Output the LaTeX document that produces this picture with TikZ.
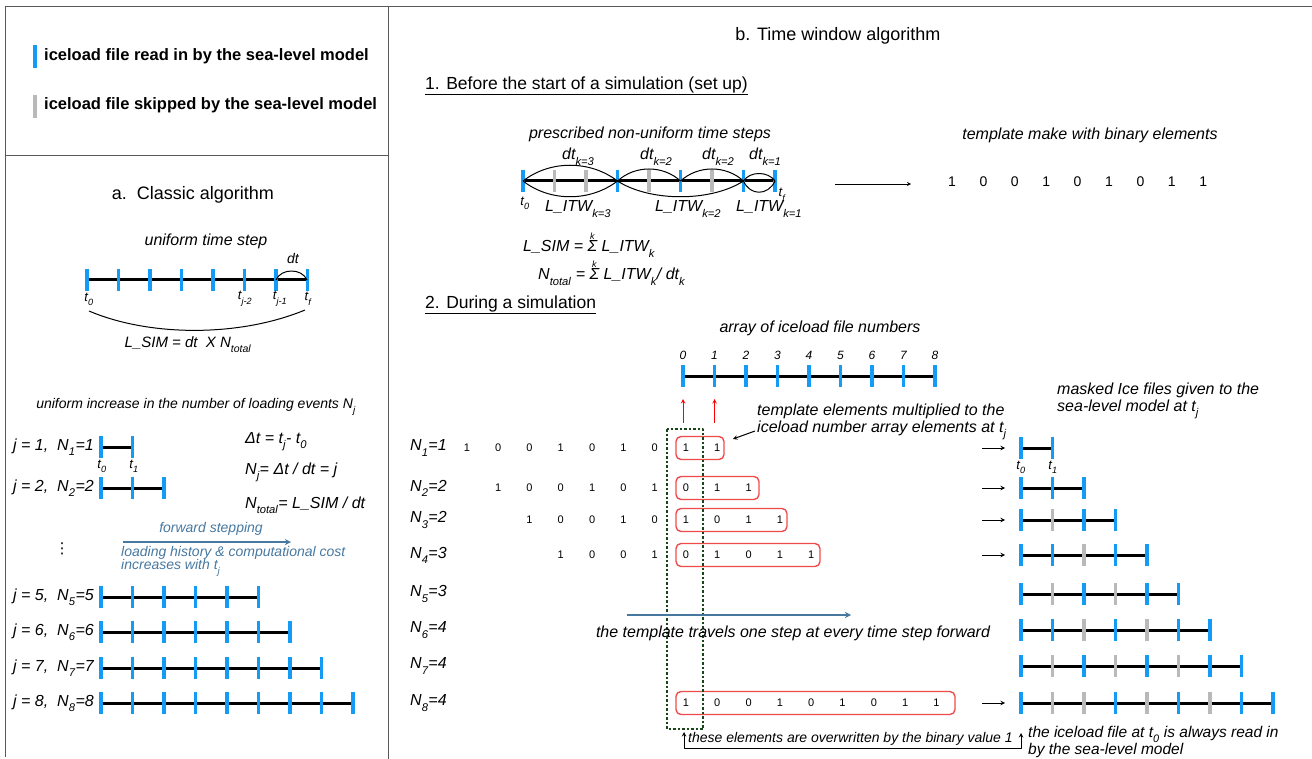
\documentclass[tikz,border=0pt]{standalone}
\usepackage{fontspec}
\setmainfont{Liberation Sans}
\newfontfamily\symfont{DejaVu Sans}
\definecolor{iceblue}{RGB}{20,155,245}
\definecolor{skipgray}{RGB}{185,185,185}
\definecolor{steel}{RGB}{70,120,160}
\definecolor{boxred}{RGB}{240,75,75}
\definecolor{maskgreen}{RGB}{25,70,25}
\newcommand{\sub}[1]{\raisebox{-.3ex}{\textsubscript{#1}}}
\newcommand{\ksum}{\ooalign{Σ\cr\hidewidth\raisebox{.8em}{\fontsize{9}{9}\selectfont k}\hidewidth\cr}}
\newcommand{\tickrow}[4]{%
	\draw[bar] (#2,#1) -- ++(#3*31.5,0);
	\foreach \s [count=\i from 0] in {#4}
		\draw[\s] (#2+\i*31.5,#1-11) -- ++(0,22);
}
\tikzset{
	readtick/.style={draw=iceblue,line width=3.5pt},
	skiptick/.style={draw=skipgray,line width=3.5pt},
	bar/.style={draw=black,line width=3pt},
	frame/.style={draw=black!65,line width=1pt},
	head/.style={font=\fontsize{18}{21}\selectfont},
	subhead/.style={font=\fontsize{17.5}{20}\selectfont},
	legtxt/.style={font=\fontsize{16.5}{18}\selectfont\bfseries},
	lbl/.style={font=\fontsize{16}{18}\selectfont\itshape},
	smalllbl/.style={font=\fontsize{14}{16}\selectfont\itshape},
	tlbl/.style={font=\fontsize{13}{15}\selectfont\itshape},
	arrnum/.style={font=\fontsize{12}{14}\selectfont\itshape},
	digit/.style={font=\fontsize{11}{13}\selectfont},
	bindigit/.style={font=\fontsize{14}{16}\selectfont},
	tempbox/.style={draw=boxred,line width=1.4pt,rounded corners=5pt},
	maskbox/.style={draw=maskgreen,line width=1.3pt,dash pattern=on 2.5pt off 2pt},
	steelarrow/.style={->,draw=steel,line width=1.7pt},
	redarrow/.style={->,draw=red,line width=1pt},
	thinarrow/.style={->,draw=black,line width=1pt}
}
\begin{document}
\begin{tikzpicture}[x=1pt,y=-1pt,line join=round,>=stealth,inner sep=0pt]
	\useasboundingbox (0,0) rectangle (1312,759);
	\draw[frame] (5,7) -- (1312,7);
	\draw[frame] (5,7) -- (5,757);
	\draw[frame] (388,7) -- (388,759);
	\draw[frame] (5,156) -- (388,156);

	\draw[readtick,line width=4pt] (35,45) -- (35,68);
	\node[legtxt,anchor=west] (legread) at (44,56) {iceload file read in by the sea-level model};
	\draw[skiptick,line width=4pt] (35,95) -- (35,118);
	\node[legtxt,anchor=west] (legskip) at (44,105) {iceload file skipped by the sea-level model};

	\node[head] (titlea) at (193,195) {a.\ \ Classic algorithm};
	\node[lbl] (uniform) at (206,241) {uniform time step};
	\tickrow{280}{87}{7}{readtick,readtick,readtick,readtick,readtick,readtick,readtick,readtick}
	\draw[line width=1pt] (276,280) .. controls (281,268) and (302,268) .. (307,280);
	\node[smalllbl] (dt) at (293,259) {dt};
	\node[tlbl] (tzero) at (89,299) {t\sub{0}};
	\node[tlbl] (tjtwo) at (245,299) {t\sub{j-2}};
	\node[tlbl] (tjone) at (280,299) {t\sub{j-1}};
	\node[tlbl] (tf) at (308,299) {t\sub{f}};
	\draw[line width=1pt] (89,311) .. controls (150,337) and (240,337) .. (305,310);
	\node[font=\fontsize{15}{17}\selectfont\itshape] (lsim) at (188,345) {L\_SIM = dt\ \ X N\sub{total}};

	\node[smalllbl] (events) at (196,407) {uniform increase in the number of loading events N\sub{j}};
	\foreach \n/\y in {1/447,2/488,5/597,6/632,7/668,8/703} {
		\node[lbl,anchor=west] (j\n) at (13,\y) {j = \n,\ \ N\sub{\n}=\n};
		\draw[bar] (101,\y) -- ++(\n*31.5,0);
		\foreach \i in {0,...,\n}
			\draw[readtick] (101+\i*31.5,\y-11) -- ++(0,22);
	}
	\node[tlbl] (rowtzero) at (102,466) {t\sub{0}};
	\node[tlbl] (rowtone) at (134,466) {t\sub{1}};
	\node[font=\fontsize{15}{17}\selectfont\symfont] (vdots) at (62,549) {⋮};
	\node[lbl,anchor=west] (deltat) at (245,442) {Δt = t\sub{j}- t\sub{0}};
	\node[lbl,anchor=west] (nj) at (245,472) {N\sub{j}= Δt / dt = j};
	\node[lbl,anchor=west] (ntotal) at (245,505) {N\sub{total}= L\_SIM / dt};
	\node[smalllbl,text=steel] (fwd) at (211,529) {forward stepping};
	\coordinate (fwdstart) at (123,542);
	\coordinate (fwdend) at (291,542);
	\draw[steelarrow] (fwdstart) -- (fwdend);
	\node[smalllbl,text=steel,anchor=west] (cost) at (121,553) {loading history \& computational cost};
	\node[smalllbl,text=steel,anchor=west] (costtj) at (121,568) {increases with t\sub{j}};

	\node[head] (titleb) at (838,36) {b. Time window algorithm};
	\node[subhead,anchor=west] (setup) at (425,86) {\underline{1. Before the start of a simulation (set up)}};
	\node[lbl] (nonuniform) at (650,134) {prescribed non-uniform time steps};
	\tickrow{181}{523}{8}{readtick,skiptick,skiptick,readtick,skiptick,readtick,skiptick,readtick,readtick}
	\draw[line width=1pt] (523,181) .. controls (550,160) and (590,160) .. (617.5,181)
		.. controls (635,165) and (663,165) .. (680.5,181)
		.. controls (698,165) and (726,165) .. (743.5,181)
		.. controls (750,171) and (768,171) .. (775,181);
	\draw[line width=1pt] (523,181) .. controls (550,202) and (590,202) .. (617.5,181)
		.. controls (650,202) and (711,202) .. (743.5,181)
		.. controls (750,196) and (768,196) .. (775,181);
	\node[lbl,anchor=base west] (dtthree) at (562,160) {dt\sub{k=3}};
	\node[lbl,anchor=base west] (dttwoa) at (640,160) {dt\sub{k=2}};
	\node[lbl,anchor=base west] (dttwob) at (702,160) {dt\sub{k=2}};
	\node[lbl,anchor=base west] (dtone) at (749,160) {dt\sub{k=1}};
	\node[tlbl] (bzero) at (525,203) {t\sub{0}};
	\node[tlbl] (bf) at (782,195) {t\sub{f}};
	\node[lbl,anchor=base west] (itwthree) at (545,212) {L\_ITW\sub{k=3}};
	\node[lbl,anchor=base west] (itwtwo) at (655,212) {L\_ITW\sub{k=2}};
	\node[lbl,anchor=base west] (itwone) at (736,212) {L\_ITW\sub{k=1}};
	\node[lbl,anchor=base west] (lsimsum) at (523,252) {L\_SIM = \ksum\ L\_ITW\sub{k}};
	\node[lbl,anchor=base west] (ntotsum) at (538,280) {N\sub{total} = \ksum\ L\_ITW\sub{k}/ dt\sub{k}};
	\coordinate (mkstart) at (835,184);
	\coordinate (mkend) at (911,184);
	\draw[thinarrow,line width=.8pt] (mkstart) -- (mkend);
	\node[lbl] (binary) at (1090,135) {template make with binary elements};
	\foreach \v [count=\i from 0] in {1,0,0,1,0,1,0,1,1}
		\node[bindigit] (b\i) at (952+\i*31.4,182) {\v};

	\node[subhead,anchor=west] (during) at (425,305) {\underline{2. During a simulation}};
	\node[lbl] (array) at (820,328) {array of iceload file numbers};
	\draw[bar] (683,376) -- (935,376);
	\foreach \i in {0,...,8} {
		\node[arrnum] (a\i) at (683+\i*31.5,355) {\i};
		\draw[readtick] (683+\i*31.5,365) -- ++(0,22);
	}
	\coordinate (rfrom0) at (683,423);
	\coordinate (rto0) at (683,399);
	\coordinate (rfrom1) at (714.5,423);
	\coordinate (rto1) at (714.5,399);
	\draw[redarrow] (rfrom0) -- (rto0);
	\draw[redarrow] (rfrom1) -- (rto1);
	\node[lbl,anchor=west,align=left] (multiplied) at (757,422) {template elements multiplied to the\\[-1pt]iceload number array elements at t\sub{j}};
	\coordinate (cmtstart) at (755,431);
	\coordinate (cmtend) at (733,439);
	\draw[thinarrow] (cmtstart) -- (cmtend);

	\foreach \r/\n/\y in {1/1/448,2/2/488,3/2/520,4/3/555,5/3/594,6/4/630,7/4/666,8/4/703}
		\node[lbl,anchor=west] (N\r) at (410,\y) {N\sub{\r}=\n};
	\foreach \r/\y/\xe in {1/448/724,2/488/759,3/520/787,4/555/820,8/703/955} {
		\draw[tempbox] (676,\y-11.5) rectangle (\xe,\y+11.5);
		\foreach \v [count=\i from 0] in {1,0,0,1,0,1,0,1,1}
			\node[digit] (d\r\i) at (686+\i*31.3-8*31.3+\r*31.3,\y) {\v};
		\coordinate (ain\r) at (982,\y);
		\coordinate (aout\r) at (1005,\y);
		\draw[thinarrow] (ain\r) -- (aout\r);
	}
	\draw[maskbox] (667,429) rectangle (703,729);
	\coordinate (tmplstart) at (627,615);
	\coordinate (tmplend) at (851,615);
	\draw[steelarrow] (tmplstart) -- (tmplend);
	\node[lbl] (travels) at (793,633) {the template travels one step at every time step forward};

	\node[lbl,anchor=west,align=left] (masked) at (1057,401) {masked Ice files given to the\\[-1pt]sea-level model at t\sub{j}};
	\tickrow{448}{1021}{1}{readtick,readtick}
	\tickrow{488}{1021}{2}{readtick,readtick,readtick}
	\tickrow{520}{1021}{3}{readtick,skiptick,readtick,readtick}
	\tickrow{555}{1021}{4}{readtick,readtick,skiptick,readtick,readtick}
	\tickrow{594}{1021}{5}{readtick,skiptick,readtick,skiptick,readtick,readtick}
	\tickrow{630}{1021}{6}{readtick,readtick,skiptick,readtick,skiptick,readtick,readtick}
	\tickrow{666}{1021}{7}{readtick,skiptick,readtick,skiptick,readtick,skiptick,readtick,readtick}
	\tickrow{703}{1021}{8}{readtick,skiptick,skiptick,readtick,skiptick,readtick,skiptick,readtick,readtick}
	\node[tlbl] (mtzero) at (1021,467) {t\sub{0}};
	\node[tlbl] (mtone) at (1053,467) {t\sub{1}};

	\coordinate (owleft) at (684,732);
	\coordinate (owright) at (1021,733);
	\draw[<->,line width=1pt] (owleft) |- (1021,748) -- (owright);
	\node[font=\fontsize{14}{16}\selectfont\itshape,anchor=west] (overwritten) at (688,739) {these elements are overwritten by the binary value 1};
	\node[font=\fontsize{15.5}{13}\selectfont\itshape,anchor=west,align=left] (alwaysread) at (1028,742) {the iceload file at t\sub{0} is always read in\\by the sea-level model};
\end{tikzpicture}
\end{document}
